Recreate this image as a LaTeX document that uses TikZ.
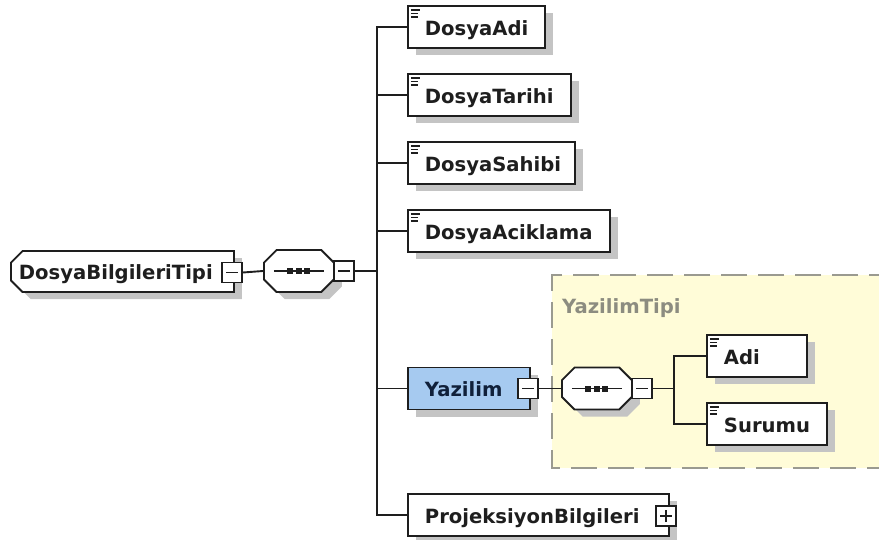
\documentclass[tikz,border=0pt]{standalone}
\usepackage{fontspec}
\setmainfont{DejaVu Sans}
\usetikzlibrary{shapes.misc,shadows}

\definecolor{linec}{HTML}{1E1E1E}
\definecolor{shadowc}{HTML}{C4C4C4}
\definecolor{typefill}{HTML}{FFFCD8}
\definecolor{typeedge}{HTML}{9A9A90}
\definecolor{typetext}{HTML}{8C8C80}
\definecolor{cplxfill}{HTML}{A6CAF0}
\definecolor{cplxtext}{HTML}{10203A}

\tikzset{
  labelfont/.style={font=\bfseries\fontsize{19.6}{22}\selectfont},
  boxshadow/.style={drop shadow={fill=shadowc, opacity=1, shadow xshift=8pt, shadow yshift=-7pt}},
  elbox/.style={rectangle, draw=linec, line width=1.9pt, fill=white, labelfont, text=linec,
    inner xsep=0pt, inner ysep=0pt, minimum height=42pt, text width=#1, align=left,
    text height=16pt, text depth=0pt, execute at begin node={\hspace*{17pt}},
    boxshadow, anchor=west},
  simple/.style={path picture={
    \draw[linec, line width=1.1pt]
      ([shift={(3pt,-4pt)}]path picture bounding box.north west) -- ++(9pt,0pt)
      ([shift={(3pt,-7.5pt)}]path picture bounding box.north west) -- ++(7.5pt,0pt)
      ([shift={(3pt,-11pt)}]path picture bounding box.north west) -- ++(7.5pt,0pt);}},
  rootbox/.style={chamfered rectangle, chamfered rectangle corners={north west,south west},
    chamfered rectangle xsep=8pt, draw=linec, line width=1.9pt, fill=white, labelfont,
    text=linec, inner xsep=0pt, inner ysep=0pt, minimum height=41pt, text width=#1,
    align=left, text height=16pt, text depth=0pt, boxshadow, anchor=west},
  seqbox/.style={chamfered rectangle, chamfered rectangle xsep=9pt, draw=linec,
    line width=1.9pt, fill=white, inner sep=0pt, text width=52pt, text height=22pt,
    text depth=0pt, minimum height=42pt, boxshadow, anchor=west,
    path picture={
      \draw[linec, line width=1.4pt] ([xshift=-25pt]path picture bounding box.center)
        -- ([xshift=25pt]path picture bounding box.center);
      \foreach \d in {-8.5,0,8.5}
        \fill[linec] ([shift={(\d pt-3pt,-3pt)}]path picture bounding box.center)
          rectangle ++(6pt,6pt);}},
  togglebox/.style={rectangle, draw=linec, line width=1.5pt, fill=white, inner sep=0pt,
    minimum width=20pt, minimum height=20pt},
  minusbox/.style={togglebox, path picture={
    \draw[linec, line width=1.4pt] ([xshift=4pt]path picture bounding box.west)
      -- ([xshift=-4pt]path picture bounding box.east);}},
  plusbox/.style={togglebox, path picture={
    \draw[linec, line width=1.4pt] ([xshift=4pt]path picture bounding box.west)
      -- ([xshift=-4pt]path picture bounding box.east)
      ([yshift=4pt]path picture bounding box.south)
      -- ([yshift=-4pt]path picture bounding box.north);}},
  conn/.style={draw=linec, line width=1.9pt},
  typelabel/.style={labelfont, text=typetext, inner sep=0pt}
}

\begin{document}
\begin{tikzpicture}[x=1pt, y=-1pt]
  \path[use as bounding box, clip] (0,0) rectangle (879,539);

  % type region of the Yazilim element
  \fill[typefill] (552,275) rectangle (895,468);
  \draw[typeedge, line width=1.4pt, dash pattern=on 26pt off 11pt]
    (895,275) -- (552,275) -- (552,468) -- (895,468);
  \node[typelabel, anchor=base west] (ytname) at (562,313) {YazilimTipi};

  % root complex type and its sequence
  \node[rootbox=207pt] (root) at (10,271.5) {DosyaBilgileriTipi};
  \node[minusbox] (rmin) at (232,272.5) {};
  \node[seqbox] (seq) at (263,271) {};
  \node[minusbox] (smin) at (344,271) {};
  \coordinate (trunk) at (377,271);

  % child elements
  \node[elbox=137pt, simple] (dadi) at (407,27) {DosyaAdi};
  \node[elbox=163pt, simple] (dtarihi) at (407,95) {DosyaTarihi};
  \node[elbox=167pt, simple] (dsahibi) at (407,163) {DosyaSahibi};
  \node[elbox=202pt, simple] (dacik) at (407,231) {DosyaAciklama};
  \node[elbox=122pt, fill=cplxfill, text=cplxtext] (yaz) at (407,388.5) {Yazilim};
  \node[minusbox] (ymin) at (528,388.5) {};
  \node[elbox=261pt] (proj) at (407,515) {ProjeksiyonBilgileri};
  \node[plusbox] (pplus) at (666,516) {};

  % sequence inside YazilimTipi
  \node[seqbox] (seq2) at (561,388.5) {};
  \node[minusbox] (s2min) at (642,388.5) {};
  \coordinate (trunk2) at (674,388.5);
  \node[elbox=100pt, simple] (adi) at (706,356) {Adi};
  \node[elbox=120pt, simple] (surumu) at (706,424) {Surumu};

  % connectors
  \draw[conn] (rmin.east) -- (seq.west);
  \draw[conn] (smin.east) -- (trunk);
  \foreach \c in {dadi,dtarihi,dsahibi,dacik,yaz,proj}
    \draw[conn] (trunk) |- (\c.west);
  \draw[conn] (ymin.east) -- (seq2.west);
  \draw[conn] (s2min.east) -- (trunk2);
  \draw[conn] (trunk2) |- (adi.west);
  \draw[conn] (trunk2) |- (surumu.west);
\end{tikzpicture}
\end{document}
